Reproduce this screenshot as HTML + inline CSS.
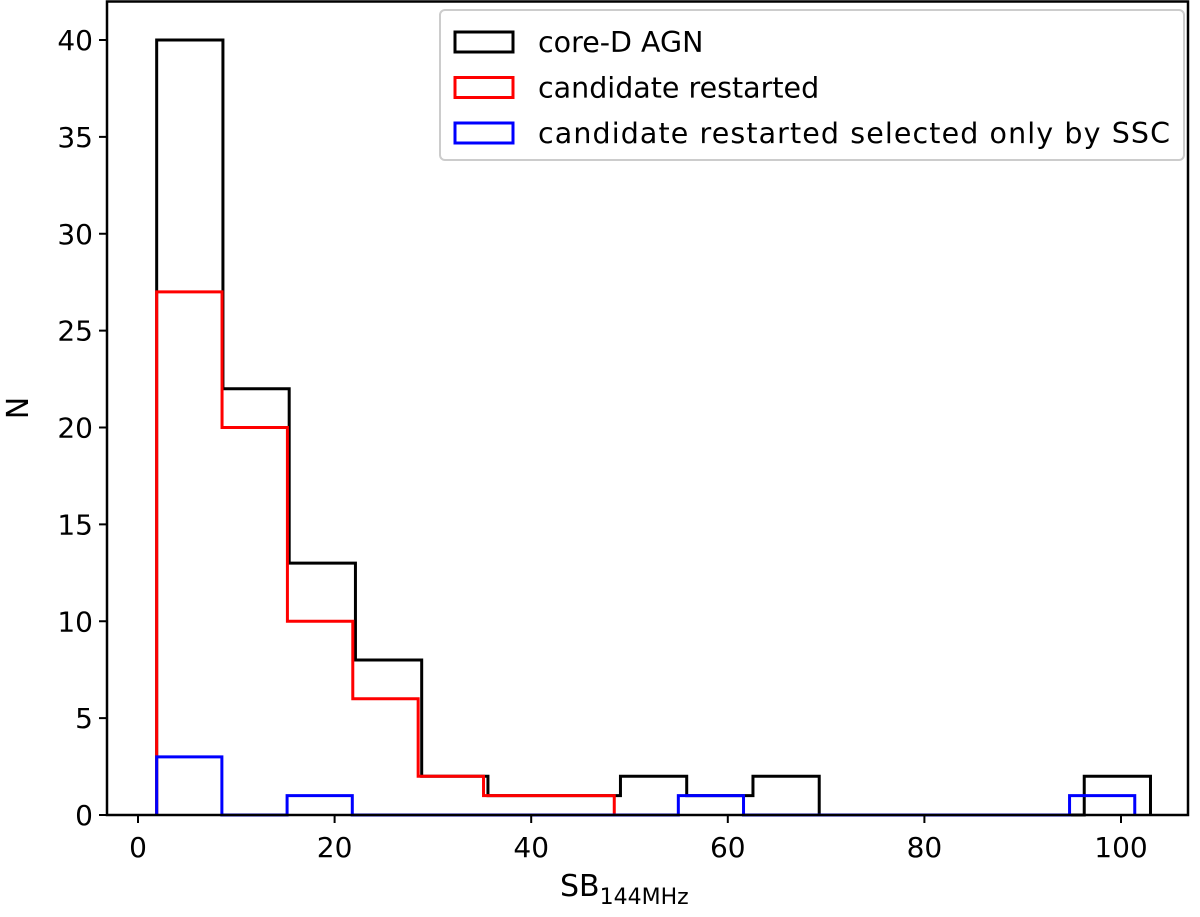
<!DOCTYPE html>
<html><head><meta charset="utf-8"><style>
body{margin:0;background:#fff}
svg text{font-family:"DejaVu Sans","Liberation Sans",sans-serif;fill:#000}
</style></head><body>
<svg id="chart" width="1200" height="912"></svg>
<script>
const blackEdgesRange=[1.9,103.0];
const blackCounts=[40,22,13,8,2,1,1,2,1,2,0,0,0,0,2];
const redEdgesRange=[1.9,48.45];
const redCounts=[27,20,10,6,2,1,1];
const blueEdgesRange=[1.9,101.4];
const blueCounts=[3,0,1,0,0,0,0,0,1,0,0,0,0,0,1];
const xTicks=[0,20,40,60,80,100];
const yTicks=[0,5,10,15,20,25,30,35,40];
const legendLabels=["core-D AGN","candidate restarted","candidate restarted selected only by SSC"];
const colors=["#000","#f00","#00f"];

const NS="http://www.w3.org/2000/svg";
const svg=document.getElementById('chart');
const L=107,R=1188,T=1.5,B=815;
const X=v=>138+(v)*(1121-138)/100;
const Y=v=>B-v*19.375;
function el(t,a,p){const e=document.createElementNS(NS,t);for(const k in a)e.setAttribute(k,a[k]);(p||svg).appendChild(e);return e;}

function hist(range,counts,color,name){
  const w=(range[1]-range[0])/counts.length;
  let d=`M${X(range[0])},${Y(0)}`;
  counts.forEach((c,i)=>{d+=` L${X(range[0]+i*w)},${Y(c)} L${X(range[0]+(i+1)*w)},${Y(c)}`;});
  d+=` L${X(range[1])},${Y(0)}`;
  const p=el('path',{d,fill:'none',stroke:color,'stroke-width':3});
  
  
}
hist(blackEdgesRange,blackCounts,colors[0],'core-d-agn-histogram');
hist(redEdgesRange,redCounts,colors[1],'candidate-restarted-histogram');
hist(blueEdgesRange,blueCounts,colors[2],'ssc-only-histogram');

const frame=el('rect',{x:L,y:T,width:R-L,height:B-T,fill:'none',stroke:'#000','stroke-width':2.5});



xTicks.forEach(v=>{
  el('line',{x1:X(v),x2:X(v),y1:B,y2:B+8,stroke:'#000','stroke-width':2});
  const t=el('text',{x:X(v),y:B+42,'font-size':28,'text-anchor':'middle'});t.textContent=v;
  
  
});
yTicks.forEach(v=>{
  el('line',{x1:L-8,x2:L,y1:Y(v),y2:Y(v),stroke:'#000','stroke-width':2});
  const t=el('text',{x:L-14,y:Y(v)+10,'font-size':28,'text-anchor':'end'});t.textContent=v;
  
  
});
const xt=el('text',{x:560,y:896,'font-size':30,'text-anchor':'start'});
xt.innerHTML='SB<tspan font-size="22" dy="8">144MHz</tspan>';


const yt=el('text',{x:0,y:0,'font-size':30,'text-anchor':'middle',transform:'translate(28,408) rotate(-90)'});
yt.textContent='N';



const lg=el('g',{});


el('rect',{x:440,y:10,width:744,height:150,rx:5,fill:'#fff',stroke:'#ccc','stroke-width':2},lg);
legendLabels.forEach((s,i)=>{
  const y=42+i*45.5;
  el('rect',{x:455,y:y-10,width:58,height:20,fill:'none',stroke:colors[i],'stroke-width':3},lg);
  const t=el('text',{x:538,y:y+10,'font-size':28.5,textLength:i==2?632:null},lg);t.textContent=s;
  if(i!=2)t.removeAttribute('textLength');
  
  
});
</script>
</body></html>
